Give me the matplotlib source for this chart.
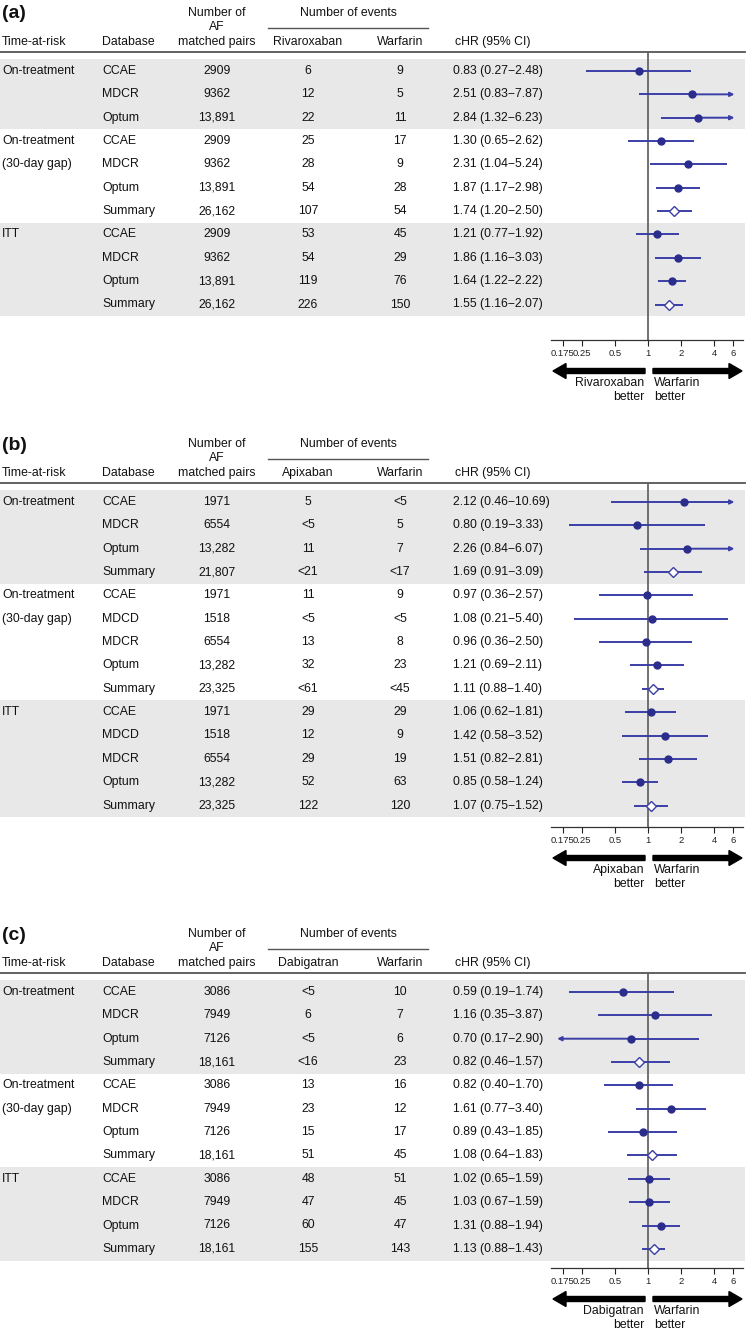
import matplotlib
matplotlib.use('Agg')
import matplotlib.pyplot as plt
from matplotlib.patches import Rectangle, FancyArrow
from matplotlib.ticker import NullLocator

plt.rcParams['font.family'] = ['Liberation Sans', 'DejaVu Sans']

# ---------------- data ----------------
tick_vals = [1/6, 0.25, 0.5, 1, 2, 4, 6]
tick_labels = ['0.175', '0.25', '0.5', '1', '2', '4', '6']

# Panel (a): Rivaroxaban vs Warfarin
a_tar = ['On-treatment', '', '', 'On-treatment', '(30-day gap)', '', '', 'ITT', '', '', '']
a_grp = [0, 0, 0, 1, 1, 1, 1, 2, 2, 2, 2]
a_db = ['CCAE', 'MDCR', 'Optum', 'CCAE', 'MDCR', 'Optum', 'Summary', 'CCAE', 'MDCR', 'Optum', 'Summary']
a_n = ['2909', '9362', '13,891', '2909', '9362', '13,891', '26,162', '2909', '9362', '13,891', '26,162']
a_ev1 = ['6', '12', '22', '25', '28', '54', '107', '53', '54', '119', '226']
a_ev2 = ['9', '5', '11', '17', '9', '28', '54', '45', '29', '76', '150']
a_hr = [0.83, 2.51, 2.84, 1.30, 2.31, 1.87, 1.74, 1.21, 1.86, 1.64, 1.55]
a_lo = [0.27, 0.83, 1.32, 0.65, 1.04, 1.17, 1.20, 0.77, 1.16, 1.22, 1.16]
a_hi = [2.48, 7.87, 6.23, 2.62, 5.24, 2.98, 2.50, 1.92, 3.03, 2.22, 2.07]

# Panel (b): Apixaban vs Warfarin
b_tar = ['On-treatment', '', '', '', 'On-treatment', '(30-day gap)', '', '', '', 'ITT', '', '', '', '']
b_grp = [0, 0, 0, 0, 1, 1, 1, 1, 1, 2, 2, 2, 2, 2]
b_db = ['CCAE', 'MDCR', 'Optum', 'Summary', 'CCAE', 'MDCD', 'MDCR', 'Optum', 'Summary',
        'CCAE', 'MDCD', 'MDCR', 'Optum', 'Summary']
b_n = ['1971', '6554', '13,282', '21,807', '1971', '1518', '6554', '13,282', '23,325',
       '1971', '1518', '6554', '13,282', '23,325']
b_ev1 = ['5', '<5', '11', '<21', '11', '<5', '13', '32', '<61', '29', '12', '29', '52', '122']
b_ev2 = ['<5', '5', '7', '<17', '9', '<5', '8', '23', '<45', '29', '9', '19', '63', '120']
b_hr = [2.12, 0.80, 2.26, 1.69, 0.97, 1.08, 0.96, 1.21, 1.11, 1.06, 1.42, 1.51, 0.85, 1.07]
b_lo = [0.46, 0.19, 0.84, 0.91, 0.36, 0.21, 0.36, 0.69, 0.88, 0.62, 0.58, 0.82, 0.58, 0.75]
b_hi = [10.69, 3.33, 6.07, 3.09, 2.57, 5.40, 2.50, 2.11, 1.40, 1.81, 3.52, 2.81, 1.24, 1.52]

# Panel (c): Dabigatran vs Warfarin
c_tar = ['On-treatment', '', '', '', 'On-treatment', '(30-day gap)', '', '', 'ITT', '', '', '']
c_grp = [0, 0, 0, 0, 1, 1, 1, 1, 2, 2, 2, 2]
c_db = ['CCAE', 'MDCR', 'Optum', 'Summary', 'CCAE', 'MDCR', 'Optum', 'Summary',
        'CCAE', 'MDCR', 'Optum', 'Summary']
c_n = ['3086', '7949', '7126', '18,161', '3086', '7949', '7126', '18,161', '3086', '7949', '7126', '18,161']
c_ev1 = ['<5', '6', '<5', '<16', '13', '23', '15', '51', '48', '47', '60', '155']
c_ev2 = ['10', '7', '6', '23', '16', '12', '17', '45', '51', '45', '47', '143']
c_hr = [0.59, 1.16, 0.70, 0.82, 0.82, 1.61, 0.89, 1.08, 1.02, 1.03, 1.31, 1.13]
c_lo = [0.19, 0.35, 0.17, 0.46, 0.40, 0.77, 0.43, 0.64, 0.65, 0.67, 0.88, 0.88]
c_hi = [1.74, 3.87, 2.90, 1.57, 1.70, 3.40, 1.85, 1.83, 1.59, 1.59, 1.94, 1.43]

panels = [
    dict(label='(a)', drug='Rivaroxaban', hl=52, axy=340,
         tar=a_tar, grp=a_grp, db=a_db, n=a_n, ev1=a_ev1, ev2=a_ev2, hr=a_hr, lo=a_lo, hi=a_hi),
    dict(label='(b)', drug='Apixaban', hl=483, axy=827,
         tar=b_tar, grp=b_grp, db=b_db, n=b_n, ev1=b_ev1, ev2=b_ev2, hr=b_hr, lo=b_lo, hi=b_hi),
    dict(label='(c)', drug='Dabigatran', hl=973, axy=1268,
         tar=c_tar, grp=c_grp, db=c_db, n=c_n, ev1=c_ev1, ev2=c_ev2, hr=c_hr, lo=c_lo, hi=c_hi),
]

# ---------------- layout ----------------
W, H = 747, 1329
fig = plt.figure(figsize=(W / 100, H / 100), dpi=100)
bg = fig.add_axes([0, 0, 1, 1])
bg.set_xlim(0, W)
bg.set_ylim(H, 0)
bg.axis('off')

FS = 8.8
TXT = '#111111'
LINE_C = '#3b3ea6'
MARK_C = '#2a2d8c'
BAND_C = '#e8e8e8'
RULE_C = '#555555'
ROW_H = 23.35
X_TAR, X_DB, X_N, X_E1, X_E2, X_HR = 2, 102, 217, 308, 400, 453
FX0, FX1 = 551, 743
XMIN, XMAX = 0.130, 7.36
LOW_CLIP, HIGH_CLIP = 0.175, 6.0
LOW_TIP, HIGH_TIP = 0.148, 6.15

for p in panels:
    hl, axy = p['hl'], p['axy']
    nrows = len(p['db'])
    ys = [hl + 19 + i * ROW_H for i in range(nrows)]

    # panel label
    bg.text(2, hl - 38, p['label'], fontsize=14, fontweight='bold', ha='left', va='center', color='#111')
    # header
    bg.text(X_N, hl - 39, 'Number of', fontsize=FS, ha='center', va='center', color=TXT)
    bg.text(X_N, hl - 25, 'AF', fontsize=FS, ha='center', va='center', color=TXT)
    bg.text(X_N, hl - 10, 'matched pairs', fontsize=FS, ha='center', va='center', color=TXT)
    bg.text((268 + 428) / 2, hl - 39, 'Number of events', fontsize=FS, ha='center', va='center', color=TXT)
    bg.plot([268, 428], [hl - 24, hl - 24], color=RULE_C, lw=1.0)
    bg.text(X_TAR, hl - 10, 'Time-at-risk', fontsize=FS, ha='left', va='center', color=TXT)
    bg.text(X_DB, hl - 10, 'Database', fontsize=FS, ha='left', va='center', color=TXT)
    bg.text(X_E1, hl - 10, p['drug'], fontsize=FS, ha='center', va='center', color=TXT)
    bg.text(X_E2, hl - 10, 'Warfarin', fontsize=FS, ha='center', va='center', color=TXT)
    bg.text(X_HR + 2, hl - 10, 'cHR (95% CI)', fontsize=FS, ha='left', va='center', color=TXT)
    bg.plot([0, 745], [hl, hl], color=RULE_C, lw=1.3)

    # shaded bands for groups 0 and 2
    for g in (0, 2):
        idx = [i for i, gg in enumerate(p['grp']) if gg == g]
        top = ys[idx[0]] - ROW_H / 2
        bot = ys[idx[-1]] + ROW_H / 2
        bg.add_patch(Rectangle((0, top), 745, bot - top, facecolor=BAND_C, edgecolor='none', zorder=0))

    # table rows
    for i, y in enumerate(ys):
        if p['tar'][i]:
            bg.text(X_TAR, y, p['tar'][i], fontsize=FS, ha='left', va='center', color=TXT)
        bg.text(X_DB, y, p['db'][i], fontsize=FS, ha='left', va='center', color=TXT)
        bg.text(X_N, y, p['n'][i], fontsize=FS, ha='center', va='center', color=TXT)
        bg.text(X_E1, y, p['ev1'][i], fontsize=FS, ha='center', va='center', color=TXT)
        bg.text(X_E2, y, p['ev2'][i], fontsize=FS, ha='center', va='center', color=TXT)
        s = f"{p['hr'][i]:.2f} ({p['lo'][i]:.2f}\u2212{p['hi'][i]:.2f})"
        bg.text(X_HR, y, s, fontsize=FS, ha='left', va='center', color=TXT)

    # forest axes
    ax = fig.add_axes([FX0 / W, (H - axy) / H, (FX1 - FX0) / W, (axy - hl) / H])
    ax.set_facecolor('none')
    ax.set_xscale('log')
    ax.set_xlim(XMIN, XMAX)
    ax.set_ylim(axy, hl)
    for sp in ('top', 'left', 'right'):
        ax.spines[sp].set_visible(False)
    ax.spines['bottom'].set_color('#333333')
    ax.spines['bottom'].set_linewidth(0.9)
    ax.set_yticks([])
    ax.set_xticks(tick_vals)
    ax.set_xticklabels(tick_labels)
    ax.xaxis.set_minor_locator(NullLocator())
    ax.tick_params(axis='x', direction='out', length=4, width=0.8, labelsize=6.8, pad=2.5,
                   colors='#222222')
    ax.axvline(1, color='#666666', lw=1.3, zorder=1)

    for i, y in enumerate(ys):
        hr, lo, hi = p['hr'][i], p['lo'][i], p['hi'][i]
        lo_d = lo if lo >= LOW_CLIP else None
        hi_d = hi if hi <= HIGH_CLIP else None
        ax.plot([lo_d if lo_d else hr, hi_d if hi_d else hr], [y, y], color=LINE_C, lw=1.4,
                solid_capstyle='butt', zorder=2)
        if lo_d is None:
            ax.annotate('', xy=(LOW_TIP, y), xytext=(hr, y),
                        arrowprops=dict(arrowstyle='-|>', color=LINE_C, lw=1.4,
                                        mutation_scale=6, shrinkA=0, shrinkB=0), zorder=2)
        if hi_d is None:
            ax.annotate('', xy=(HIGH_TIP, y), xytext=(hr, y),
                        arrowprops=dict(arrowstyle='-|>', color=LINE_C, lw=1.4,
                                        mutation_scale=6, shrinkA=0, shrinkB=0), zorder=2)
        if p['db'][i] == 'Summary':
            ax.plot([hr], [y], marker='D', markersize=5.2, markerfacecolor='white',
                    markeredgecolor=LINE_C, markeredgewidth=1.0, zorder=3)
        else:
            ax.plot([hr], [y], marker='o', markersize=5.0, color=MARK_C, zorder=3)

    # direction arrows
    ya = axy + 31
    bg.add_patch(FancyArrow(645, ya, -(645 - 553), 0, width=5, head_width=15, head_length=13,
                            length_includes_head=True, color='black', zorder=3))
    bg.add_patch(FancyArrow(653, ya, 742 - 653, 0, width=5, head_width=15, head_length=13,
                            length_includes_head=True, color='black', zorder=3))
    bg.text(644, axy + 43, p['drug'], fontsize=FS, ha='right', va='center', color=TXT)
    bg.text(644, axy + 57, 'better', fontsize=FS, ha='right', va='center', color=TXT)
    bg.text(654, axy + 43, 'Warfarin', fontsize=FS, ha='left', va='center', color=TXT)
    bg.text(654, axy + 57, 'better', fontsize=FS, ha='left', va='center', color=TXT)

fig.savefig('out.png', dpi=100, facecolor='white')
